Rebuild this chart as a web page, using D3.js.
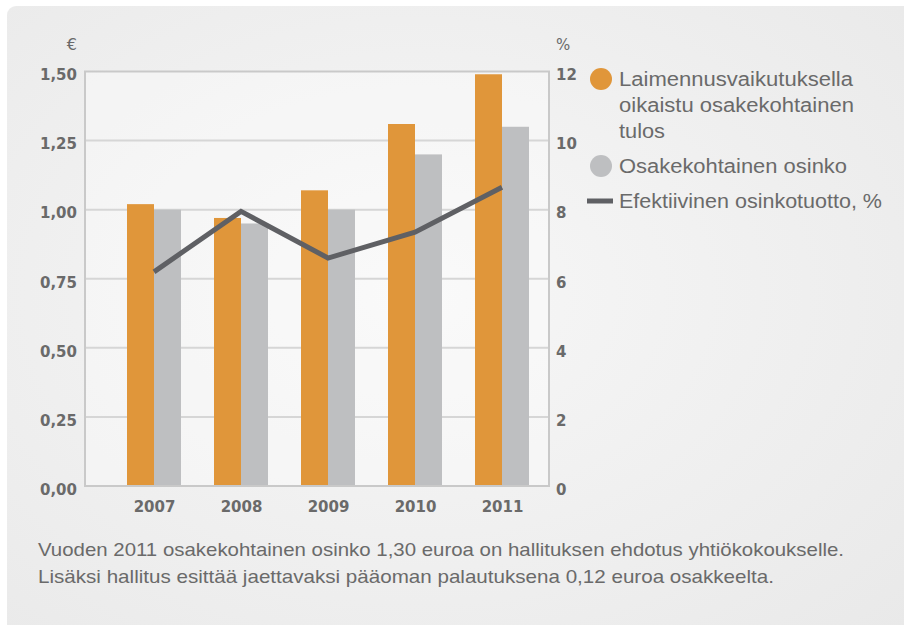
<!DOCTYPE html>
<html>
<head>
<meta charset="utf-8">
<script src="https://cdn.jsdelivr.net/npm/d3@7/dist/d3.min.js"></script>
<style>
  html, body { margin: 0; padding: 0; background: #ffffff; }
  svg { display: block; }
</style>
</head>
<body>
<svg id="chart" width="904" height="625"></svg>
<script>
// ---- data ----
const years = ["2007", "2008", "2009", "2010", "2011"];
const epsDiluted = [1.02, 0.97, 1.07, 1.31, 1.49];   // € (orange)
const dividend = [1.00, 0.95, 1.00, 1.20, 1.30];     // € (gray)
const yieldPct = [6.2, 7.95, 6.6, 7.35, 8.65];        // % (line)
const leftTicks = [0, 0.25, 0.5, 0.75, 1.0, 1.25, 1.5];
const rightTicks = [0, 2, 4, 6, 8, 10, 12];
const legendLabels = [
  ["Laimennusvaikutuksella", "oikaistu osakekohtainen", "tulos"],
  ["Osakekohtainen osinko"],
  ["Efektiivinen osinkotuotto, %"]
];
const footnote = [
  "Vuoden 2011 osakekohtainen osinko 1,30 euroa on hallituksen ehdotus yhtiökokoukselle.",
  "Lisäksi hallitus esittää jaettavaksi pääoman palautuksena 0,12 euroa osakkeelta."
];

const ORANGE = "#e0963a", GRAY = "#bebfc1", LINE = "#5f6064", TXT = "#6a6a6a";

const svg = d3.select("#chart");
const defs = svg.append("defs");
const rg = defs.append("radialGradient").attr("id", "bg")
  .attr("cx", "45%").attr("cy", "45%").attr("r", "75%");
rg.append("stop").attr("offset", "0%").attr("stop-color", "#f7f7f7");
rg.append("stop").attr("offset", "100%").attr("stop-color", "#e9e9e9");

svg.append("rect").attr("x", 7).attr("y", 6).attr("width", 910).attr("height", 640)
  .attr("rx", 9).attr("fill", "url(#bg)");

const L = 85, R = 549, T = 71.5, B = 486;

const yL = d3.scaleLinear().domain([0, 1.5]).range([B, T]);
const yR = d3.scaleLinear().domain([0, 12]).range([B, T]);
const xC = d3.scalePoint().domain(years).range([154, 502]);
const barW = 27;

// plot area
svg.append("rect").attr("x", L).attr("y", T).attr("width", R - L).attr("height", B - T)
  .attr("fill", "#ffffff").attr("fill-opacity", 0.35);

// gridlines
svg.append("g").selectAll("line").data(leftTicks.slice(1, -1)).join("line")
  .attr("x1", L).attr("x2", R).attr("y1", d => yL(d)).attr("y2", d => yL(d))
  .attr("stroke", "#d6d6d6").attr("stroke-width", 2);

// bars
svg.append("g").selectAll("rect").data(years).join("rect")
  .attr("x", d => xC(d) - barW).attr("width", barW)
  .attr("y", (d, i) => yL(epsDiluted[i])).attr("height", (d, i) => B - yL(epsDiluted[i]))
  .attr("fill", ORANGE);
svg.append("g").selectAll("rect").data(years).join("rect")
  .attr("x", d => xC(d)).attr("width", barW)
  .attr("y", (d, i) => yL(dividend[i])).attr("height", (d, i) => B - yL(dividend[i]))
  .attr("fill", GRAY);

// frame
svg.append("rect").attr("x", L).attr("y", T).attr("width", R - L).attr("height", B - T)
  .attr("fill", "none").attr("stroke", "#c9c9c9").attr("stroke-width", 2);

// line
const line = d3.line().x((d, i) => xC(years[i])).y(d => yR(d));
svg.append("path").datum(yieldPct).attr("d", line)
  .attr("fill", "none").attr("stroke", LINE).attr("stroke-width", 5)
  .attr("stroke-linejoin", "miter").attr("stroke-linecap", "butt");

// axes
const tickFont = "'DejaVu Sans', Verdana, sans-serif";
const axL = d3.axisLeft(yL).tickValues(leftTicks).tickSize(0).tickPadding(8)
  .tickFormat(d => d3.format(".2f")(d).replace(".", ","));
const gL = svg.append("g").attr("transform", `translate(${L},0)`).call(axL);
const axR = d3.axisRight(yR).tickValues(rightTicks).tickSize(0).tickPadding(7)
  .tickFormat(d3.format("d"));
const gR = svg.append("g").attr("transform", `translate(${R},0)`).call(axR);
const axB = d3.axisBottom(xC).tickSize(0).tickPadding(15);
const gB = svg.append("g").attr("transform", `translate(0,${B})`).call(axB);
[gL, gR, gB].forEach(g => {
  g.select(".domain").remove();
  g.selectAll("text").attr("font-family", tickFont).attr("font-weight", "bold")
    .attr("font-size", 15).attr("fill", TXT);
});
gL.selectAll("text").attr("dy", "0.55em");
gR.selectAll("text").attr("dy", "0.55em");

// unit labels
svg.append("text").attr("x", 77).attr("y", 50).attr("text-anchor", "end")
  .attr("font-family", tickFont).attr("font-size", 16).attr("fill", TXT).text("€");
svg.append("text").attr("x", 556).attr("y", 50)
  .attr("font-family", tickFont).attr("font-size", 15).attr("fill", TXT).text("%");

// legend
const lf = "'Liberation Sans', Arial, sans-serif";
const lg = svg.append("g");
const legY = [79, 166, 201];
const legW = [[234, 235, 46], [228], [263]];
lg.append("circle").attr("cx", 601).attr("cy", legY[0]).attr("r", 11).attr("fill", ORANGE);
lg.append("circle").attr("cx", 601).attr("cy", legY[1]).attr("r", 11).attr("fill", GRAY);
lg.append("line").attr("x1", 587).attr("x2", 613).attr("y1", legY[2]).attr("y2", legY[2])
  .attr("stroke", LINE).attr("stroke-width", 5);
legendLabels.forEach((lines, k) => {
  lines.forEach((s, j) => {
    lg.append("text").attr("x", 619).attr("y", legY[k] + j * 26).attr("dy", "0.36em")
      .attr("font-family", lf).attr("font-size", 20).attr("fill", TXT)
      .attr("textLength", legW[k][j]).attr("lengthAdjust", "spacingAndGlyphs").text(s);
  });
});

// footnote
const footW = [806, 736];
footnote.forEach((s, i) => {
  svg.append("text").attr("x", 38).attr("y", 556 + i * 27)
    .attr("font-family", lf).attr("font-size", 19).attr("fill", TXT)
    .attr("textLength", footW[i]).attr("lengthAdjust", "spacingAndGlyphs").text(s);
});
</script>
</body>
</html>
